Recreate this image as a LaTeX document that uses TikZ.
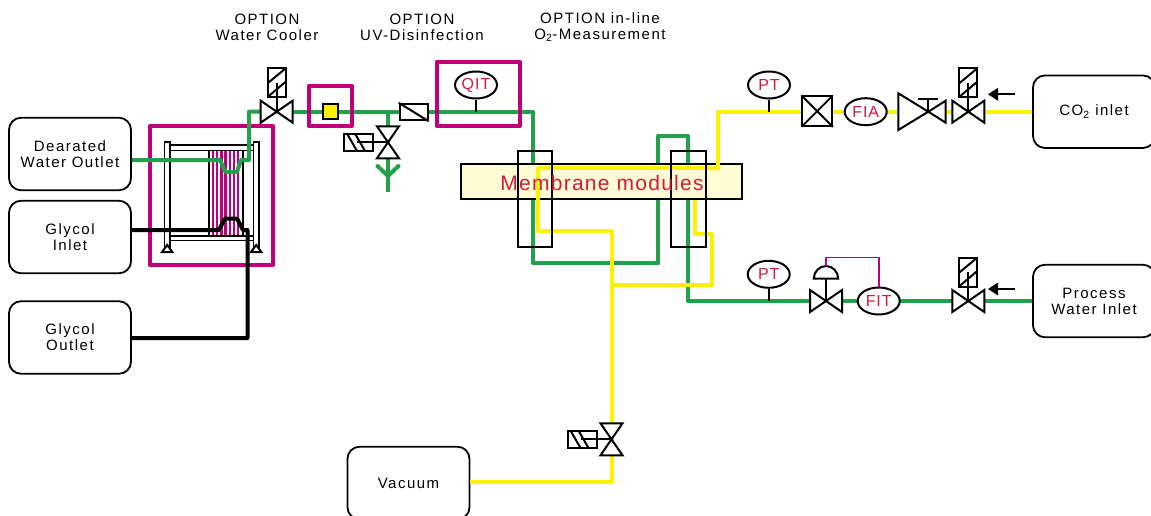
\documentclass[tikz,border=0pt]{standalone}
\usepackage{fontspec}
\usetikzlibrary{shapes.geometric}
\setmainfont[LetterSpace=10]{Liberation Sans}
\newfontfamily\tightf[LetterSpace=6]{Liberation Sans}
\definecolor{pgreen}{HTML}{22A04A}
\definecolor{pyellow}{HTML}{FBF200}
\definecolor{pmag}{HTML}{C0007A}
\definecolor{pred}{HTML}{CF1B3F}
\definecolor{pcream}{HTML}{FFFBD2}
\tikzset{
  sym/.style={draw=black,line width=2pt,line join=miter},
  termbox/.style={draw=black,line width=1.8pt,rounded corners=12pt,fill=white,minimum height=72.5pt,align=center,font=\fontsize{15}{16}\selectfont,inner sep=0pt},
  toplabel/.style={align=center,font=\fontsize{15}{16}\selectfont,inner sep=0pt},
  instr/.style={ellipse,draw=black,line width=2pt,fill=white,minimum width=42pt,minimum height=27pt,inner sep=0pt,text=pred,font=\tightf\fontsize{16}{16}\selectfont},
  greenpipe/.style={draw=pgreen,line width=4pt,line join=round},
  yellowpipe/.style={draw=pyellow,line width=4pt,line join=round},
  blackpipe/.style={draw=black,line width=4pt,line join=round},
  optbox/.style={draw=pmag,line width=4pt,line join=round},
  signal/.style={draw=pmag,line width=1.6pt,line join=round},
  hvalve/.pic={\draw[sym,fill=white] (-16,-11)--(16,11)--(16,-11)--(-16,11)--cycle;},
  vvalve/.pic={\draw[sym,fill=white] (-11,-16)--(11,16)--(-11,16)--(11,-16)--cycle;},
  solup/.pic={
    \draw[sym,fill=white] (-9,-43.4) rectangle (9,-14.4);
    \draw[sym] (-9,-28.5)--(9,-43.4) (-9,-14.8)--(9,-30);
    \draw[sym] (0,-29)--(0,0);},
  solleft/.pic={
    \draw[sym,fill=white] (-43.8,-8.7) rectangle (-14.8,8.7);
    \draw[sym] (-41,-8.7)--(-31,8.7) (-33,-8.7)--(-23,8.7);
    \draw[sym] (-31,0)--(0,0);},
  arrowin/.pic={
    \fill (-27,0)--(-17,-6.5)--(-17,6.5)--cycle;
    \draw[line width=2pt] (-18,0)--(0,0);},
}
\begin{document}
\begin{tikzpicture}[x=1pt,y=-1pt]
\useasboundingbox (0,0) rectangle (1151,515);
% terminals
\node[termbox,minimum width=122pt] (dear) at (70,154) {\raisebox{-1.5pt}{Dearated}\\\raisebox{-1.5pt}{Water Outlet}};
\node[termbox,minimum width=122pt] (gin) at (70,237) {\raisebox{-1.5pt}{Glycol}\\\raisebox{-1.5pt}{Inlet}};
\node[termbox,minimum width=122pt] (gout) at (70,337.5) {\raisebox{-1.5pt}{Glycol}\\\raisebox{-1.5pt}{Outlet}};
\node[termbox,minimum width=122pt] (vac) at (408.5,483) {\raisebox{-1.5pt}{Vacuum}};
\node[termbox,minimum width=122pt] (co) at (1094,111.7) {\raisebox{-1.5pt}{CO\textsubscript{2} inlet}};
\node[termbox,minimum width=122pt] (pw) at (1094,301) {\raisebox{-1.5pt}{Process}\\\raisebox{-1.5pt}{Water Inlet}};
% top labels
\node[toplabel] (l1) at (267,27) {OPTION\\Water Cooler};
\node[toplabel] (l2) at (422,27) {OPTION\\UV-Disinfection};
\node[toplabel] (l3) at (600,27) {OPTION in-line\\O\textsubscript{2}-Measurement};
% water cooler
\draw[optbox] (150,126) rectangle (273,265);
\foreach \x in {213,217.2,...,240} \draw[pmag,line width=2.4pt] (\x,151)--(\x,235);
\draw[black,line width=1.8pt] (209.3,151)--(209.3,236);
\draw[black,line width=1.6pt] (242.7,151)--(242.7,236);
\draw[black,line width=1.5pt] (170,145)--(253.5,145) (170,150.7)--(253.5,150.7) (170,236)--(253.5,236) (170,240.5)--(253.5,240.5);
\draw[black,line width=1.6pt,fill=white] (164.5,142) rectangle (170,247);
\draw[black,line width=1.6pt,fill=white] (253.5,142) rectangle (259,247);
\draw[sym,fill=white] (167.2,245)--(172.3,252)--(162,252)--cycle;
\draw[sym,fill=white] (256.2,245)--(261.3,252)--(251,252)--cycle;
% coordinates
\coordinate (vA) at (276.7,111.7);
\coordinate (tee) at (388,111.7);
\coordinate (vB) at (388,142.3);
\coordinate (yfork) at (388,176);
\coordinate (ydrain) at (388,192);
\coordinate (ql) at (476,111.7);
\coordinate (g1) at (533.3,111.7);
\coordinate (g2) at (533.3,263.3);
\coordinate (g3) at (658.3,263.3);
\coordinate (g4) at (658.3,135.7);
\coordinate (g5) at (687.7,135.7);
\coordinate (g6) at (687.7,301);
\coordinate (y1) at (718.3,111.7);
\coordinate (y2) at (718.3,168.3);
\coordinate (y3) at (538.3,168.3);
\coordinate (y4) at (538.3,231);
\coordinate (y5) at (611.5,231);
\coordinate (yj) at (611.5,285);
\coordinate (y6) at (711.7,285);
\coordinate (y7) at (711.7,234.3);
\coordinate (y8) at (695,234.3);
\coordinate (y9) at (695,199);
\coordinate (vV) at (611.5,439.3);
\coordinate (y10) at (611.5,481.7);
% pipes below banner
\draw[greenpipe] (dear.east |- 0,160) -- (220,160) -- (225.5,172) -- (237,172) -- (241,160) -- (249,160) -- (249,111.7) -- (vA);
\draw[greenpipe] (vA) -- (g1) -- (g2) -- (g3) -- (g4) -- (g5) -- (g6) -- (pw.west);
\draw[greenpipe] (tee) -- (vB) -- (yfork) -- (ydrain);
\draw[greenpipe,line cap=round] (377.5,166) -- (yfork) -- (398.5,166);
\draw[yellowpipe] (yj) -- (y6) -- (y7) -- (y8) -- (y9);
\draw[blackpipe] (gin.east |- 0,230) -- (219,230) -- (225,218.5) -- (237,218.5) -- (243,230) -- (247.5,230) -- (247.5,338) -- (gout.east |- 0,338);
% banner
\path[draw=black,line width=1.9pt,fill=pcream] (461,164.3) rectangle (741.7,199);
\coordinate (banner) at (602,183);
% yellow
\draw[yellowpipe] (co.west) -- (y1) -- (y2) -- (y3) -- (y4) -- (y5) -- (y10) -- (vac.east |- y10);
% membrane modules
\draw[black,line width=1.7pt] (518,151) rectangle (552.3,247.3);
\draw[black,line width=1.7pt] (671.3,151) rectangle (706,247.3);
\node[inner sep=0pt,text=pred,font=\tightf\fontsize{21}{21}\selectfont] (mm) at (banner) {Membrane modules};
% UV and QIT
\node[draw=black,line width=2pt,fill=pyellow,minimum size=15pt,inner sep=0pt] (uv) at (330.3,111.7) {};
\draw[optbox] (308.5,86) rectangle (352,126);
\node[draw=black,line width=2pt,fill=white,minimum width=28pt,minimum height=16.5pt,inner sep=0pt] (chk) at (413.7,112) {};
\draw[sym] (chk.north west) -- (chk.south east);
\draw[optbox] (436.5,62) rectangle (520,126);
\node[instr] (qit) at (476,85) {QIT};
\draw[sym] (qit.south) -- (ql);
% right-hand top line
\node[instr] (pt1) at (769,85) {PT};
\coordinate (pt1l) at (769,111.7);
\draw[sym] (pt1.south) -- (pt1l);
\node[draw=black,line width=2pt,fill=white,minimum size=29.5pt,inner sep=0pt] (xb) at (817.2,111.2) {};
\draw[sym,line width=1.8pt] (xb.north west) -- (xb.south east) (xb.north east) -- (xb.south west);
\node[instr] (fia) at (865.7,111.7) {FIA};
\draw[sym,fill=white] (898.3,93.3) -- (928.3,111.7) -- (898.3,130) -- cycle;
\draw[sym,fill=white] (945.7,100.7) -- (928.3,111.7) -- (945.7,122.7) -- cycle;
\draw[sym] (928.3,111.7) -- (928.3,99.3) (918.3,99.3) -- (937.7,99.3);
\pic at (968.3,111.7) {hvalve};
\pic at (968.3,111.7) {solup};
\pic at (1015,94.3) {arrowin};
% water line
\node[instr] (pt2) at (768.7,274.3) {PT};
\coordinate (pt2l) at (768.7,301);
\draw[sym] (pt2.south) -- (pt2l);
\pic at (826,301) {hvalve};
\draw[sym,fill=white] (813.8,278.7) arc[start angle=180,end angle=360,x radius=12.2,y radius=12.7] -- cycle;
\draw[sym] (826,278.7) -- (826,301);
\node[instr] (fit) at (878.7,301) {FIT};
\coordinate (dome) at (826,266);
\draw[signal] (dome) -- (826,257.3) -- (878.7,257.3) -- (fit.north);
\pic at (968.3,301) {hvalve};
\pic at (968.3,301) {solup};
\pic at (1015,289) {arrowin};
% valves
\pic at (vA) {hvalve};
\pic at (vA) {solup};
\pic at (vB) {vvalve};
\pic at (vB) {solleft};
\pic at (vV) {vvalve};
\pic at (vV) {solleft};
\end{tikzpicture}
\end{document}
